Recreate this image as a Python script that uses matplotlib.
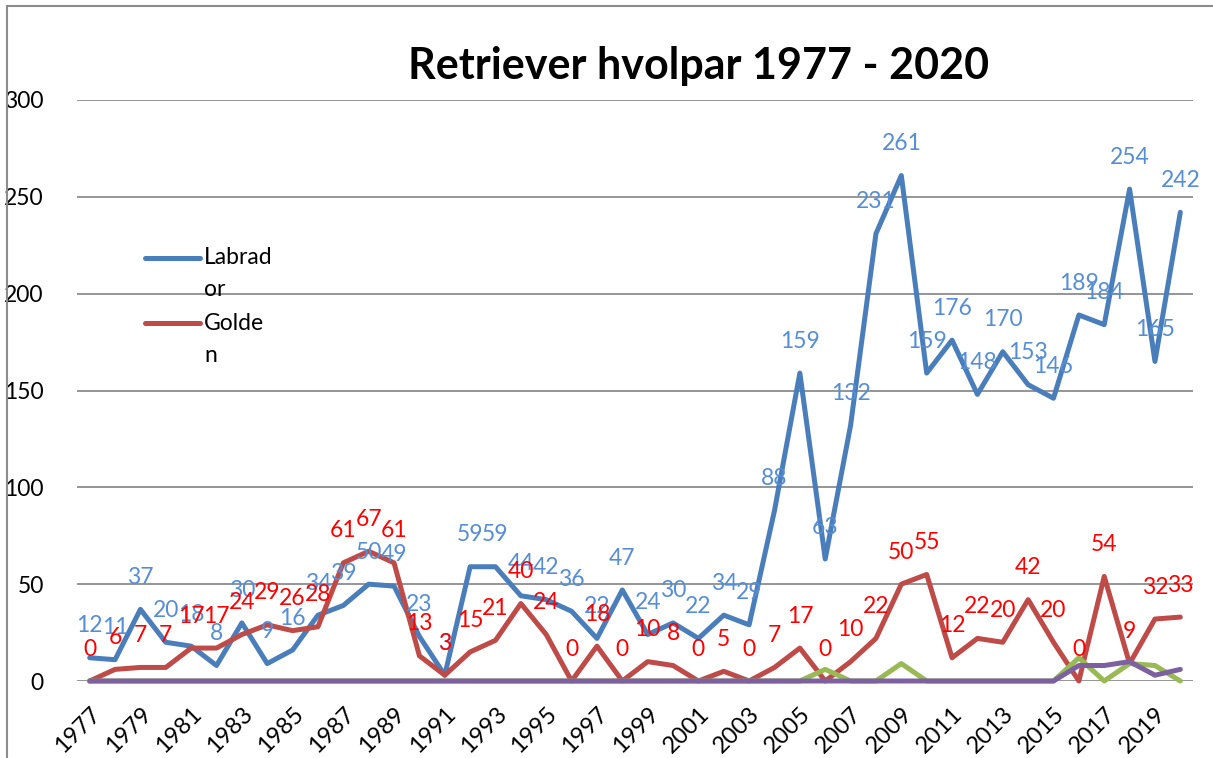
import matplotlib
matplotlib.use('Agg')
import matplotlib.pyplot as plt
from matplotlib.lines import Line2D

plt.rcParams['font.family'] = ['Lato', 'DejaVu Sans']

years = list(range(1977, 2021))
labrador = [12, 11, 37, 20, 18, 8, 30, 9, 16, 34, 39, 50, 49, 23, 3, 59, 59, 44, 42, 36, 22, 47,
            24, 30, 22, 34, 29, 88, 159, 63, 132, 231, 261, 159, 176, 148, 170, 153, 146, 189,
            184, 254, 165, 242]
golden = [0, 6, 7, 7, 17, 17, 24, 29, 26, 28, 61, 67, 61, 13, 3, 15, 21, 40, 24, 0, 18, 0,
          10, 8, 0, 5, 0, 7, 17, 0, 10, 22, 50, 55, 12, 22, 20, 42, 20, 0, 54, 9, 32, 33]
green = [0] * 29 + [6, 0, 0, 9, 0, 0, 0, 0, 0, 0, 12, 0, 9, 8, 0]
purple = [0] * 39 + [8, 8, 10, 3, 6]
tick_years = years[::2]

W, H = 1213, 758


def px(x, y):
    # pixel position -> figure fraction
    return x / W, 1 - y / H


fig = plt.figure(figsize=(W / 100, H / 100), dpi=100)
ax = fig.add_axes([77 / W, 1 - 681 / H, (1193 - 77) / W, 581 / H])

lw = 3.6
kw = dict(linewidth=lw, solid_joinstyle='round', solid_capstyle='round', clip_on=False)
ax.plot(years, labrador, color='#4A7EBB', zorder=3, **kw)
ax.plot(years, golden, color='#BE4B48', zorder=4, **kw)
ax.plot(years, green, color='#98B954', zorder=5, **kw)
ax.plot(years, purple, color='#7D60A0', zorder=6, **kw)

# data labels above the points
for x, v in zip(years, labrador):
    ax.annotate(str(v), (x, v), xytext=(0, 23), textcoords='offset points',
                ha='center', va='center', fontsize=16.5, color='#558ED5', zorder=10,
                annotation_clip=False)
for x, v in zip(years, golden):
    ax.annotate(str(v), (x, v), xytext=(0, 23), textcoords='offset points',
                ha='center', va='center', fontsize=16.5, color='#FF0000', zorder=11,
                annotation_clip=False)

ax.set_xlim(1976.5, 2020.5)
ax.set_ylim(0, 300)
ax.set_yticks(range(0, 301, 50))
ax.set_xticks(tick_years)
ax.set_xticklabels([str(y) for y in tick_years], rotation=45, ha='right',
                   rotation_mode='anchor', fontsize=17)
ax.tick_params(axis='x', length=0, pad=16)
ax.tick_params(axis='y', length=0, pad=24, labelsize=16.5)
ax.grid(axis='y', color='#8C8C8C', linewidth=1.3)
ax.set_axisbelow(True)
for s in ax.spines.values():
    s.set_visible(False)

fig.text(*px(699, 66), 'Retriever hvolpar 1977 - 2020', ha='center', va='center',
         fontsize=31, fontweight='bold')

# legend
fig.add_artist(Line2D([145 / W, 200 / W], [1 - 258 / H] * 2, color='#4A7EBB', linewidth=lw,
                      solid_capstyle='round'))
fig.add_artist(Line2D([145 / W, 200 / W], [1 - 323 / H] * 2, color='#BE4B48', linewidth=lw,
                      solid_capstyle='round'))
for y, t in [(258, 'Labrad'), (290, 'or'), (323, 'Golde'), (355, 'n')]:
    fig.text(*px(204, y), t, ha='left', va='center', fontsize=16.5)

# chart border
fig.add_artist(Line2D([7 / W, 7 / W], [0, 1 - 6 / H], color='#8C8C8C', linewidth=1.5))
fig.add_artist(Line2D([7 / W, 1], [1 - 6 / H] * 2, color='#8C8C8C', linewidth=1.5))

fig.savefig('out.png', dpi=100)
